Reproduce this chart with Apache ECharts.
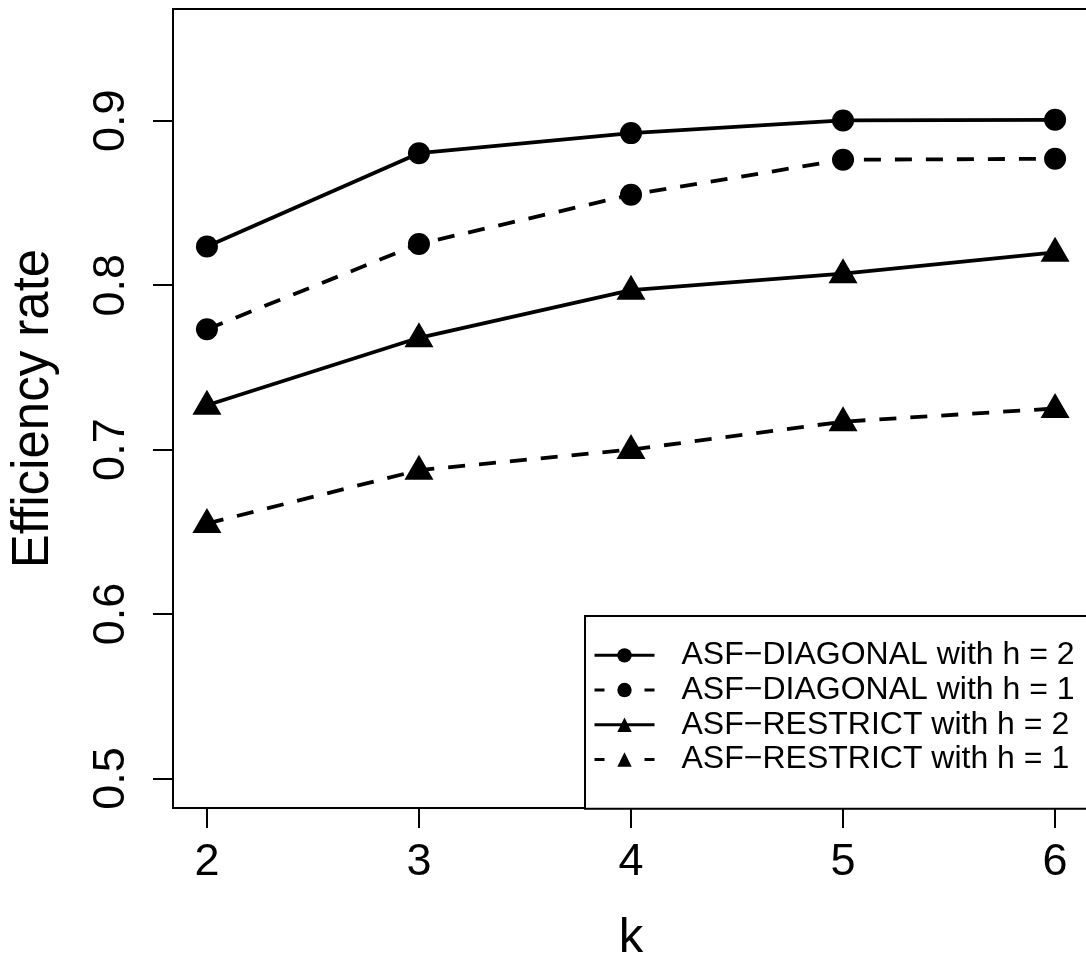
<!DOCTYPE html>
<html>
<head>
<meta charset="utf-8">
<script src="https://cdn.jsdelivr.net/npm/echarts@6/dist/echarts.min.js"></script>
<style>
html,body{margin:0;padding:0;background:#fff;}
#chart{width:1086px;height:962px;}
</style>
</head>
<body>
<div id="chart"></div>
<script>
const kValues = [2, 3, 4, 5, 6];
const diagonalH2 = [0.8235, 0.8803, 0.8925, 0.9002, 0.9006];
const diagonalH1 = [0.7732, 0.8251, 0.855, 0.8763, 0.8769];
const restrictH2 = [0.727, 0.768, 0.797, 0.807, 0.820];
const restrictH1 = [0.655, 0.6875, 0.700, 0.717, 0.725];
const seriesNames = ['ASF\u2212DIAGONAL with h = 2', 'ASF\u2212DIAGONAL with h = 1', 'ASF\u2212RESTRICT with h = 2', 'ASF\u2212RESTRICT with h = 1'];
const xTicks = [2, 3, 4, 5, 6];
const yTicks = [0.5, 0.6, 0.7, 0.8, 0.9];

const FONT = 'Liberation Sans, Arial, Helvetica, sans-serif';
const pairs = v => kValues.map((k, i) => [k, v[i]]);
const dash = [17, 14];

function mk(name, data, symbol, dashed) {
  return {
    name: name,
    type: 'line',
    data: pairs(data),
    symbol: symbol,
    symbolSize: symbol === 'circle' ? 22 : [29, 25],
    symbolOffset: symbol === 'circle' ? [0, 0] : [0, -3],
    showSymbol: true,
    color: '#000',
    itemStyle: { color: '#000' },
    lineStyle: { color: '#000', width: 3.8, type: dashed ? dash : 'solid' },
    emphasis: { disabled: true },
    z: 3
  };
}

function legendItem(i, dashed) {
  return {
    name: seriesNames[i],
    lineStyle: { color: '#000', width: 3, type: dashed ? [10, 40] : 'solid', dashOffset: 0 },
    itemStyle: { color: '#000' }
  };
}

const chart = echarts.init(document.getElementById('chart'), null, { renderer: 'canvas' });
chart.setOption({
  animation: false,
  backgroundColor: '#fff',
  grid: {
    left: 173, top: 9, width: 916, height: 799,
    outerBoundsMode: 'none',
    containLabel: false,
    show: true, borderColor: '#000', borderWidth: 2, backgroundColor: 'transparent'
  },
  xAxis: {
    type: 'value', min: 1.84, max: 6.16,
    name: 'k', nameLocation: 'middle', nameGap: 106,
    nameTextStyle: { fontFamily: FONT, fontSize: 49, color: '#000' },
    axisLine: { show: true, onZero: false, lineStyle: { color: '#000', width: 2 } },
    axisTick: { show: true, inside: false, length: 20, lineStyle: { color: '#000', width: 2 }, customValues: xTicks },
    axisLabel: { show: true, margin: 32, fontFamily: FONT, fontSize: 45, color: '#000', customValues: xTicks, formatter: v => String(v) },
    splitLine: { show: false }
  },
  yAxis: {
    type: 'value', min: 0.482, max: 0.968,
    name: 'Efficiency rate', nameLocation: 'middle', nameGap: 114, nameRotate: 90,
    nameTextStyle: { fontFamily: FONT, fontSize: 51, color: '#000' },
    axisLine: { show: true, onZero: false, lineStyle: { color: '#000', width: 2 } },
    axisTick: { show: true, inside: false, length: 20, lineStyle: { color: '#000', width: 2 }, customValues: yTicks },
    axisLabel: { show: true, rotate: 90, margin: 39, fontFamily: FONT, fontSize: 45, color: '#000', customValues: yTicks, formatter: v => v.toFixed(1) },
    splitLine: { show: false }
  },
  legend: {
    show: true,
    orient: 'vertical',
    left: 585, top: 616,
    data: [
      legendItem(0, false),
      legendItem(1, true),
      legendItem(2, false),
      legendItem(3, true)
    ],
    itemWidth: 60, itemHeight: 18, itemGap: 0,
    padding: [22, 40, 32, 8],
    backgroundColor: '#fff',
    borderColor: '#000', borderWidth: 2,
    selectedMode: false,
    textStyle: { fontFamily: FONT, fontSize: 32, color: '#000', lineHeight: 34.7, padding: [0, 0, 0, 22] },
    z: 10
  },
  series: [
    mk(seriesNames[0], diagonalH2, 'circle', false),
    mk(seriesNames[1], diagonalH1, 'circle', true),
    mk(seriesNames[2], restrictH2, 'triangle', false),
    mk(seriesNames[3], restrictH1, 'triangle', true)
  ]
});
</script>
</body>
</html>
